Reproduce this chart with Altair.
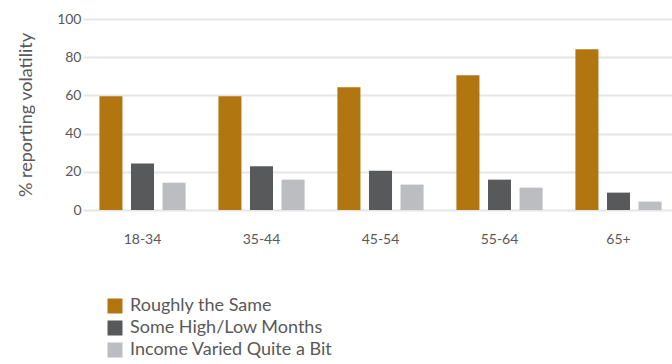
import altair as alt
import pandas as pd

groups = ["18-34", "35-44", "45-54", "55-64", "65+"]
series = ["Roughly the Same", "Some High/Low Months", "Income Varied Quite a Bit"]
roughly = [59.5, 59.5, 64.3, 70.6, 84.2]
high_low = [24.3, 22.9, 20.6, 15.9, 9.1]
varied = [14.3, 15.9, 13.3, 11.7, 4.4]
colors = ["#B1760F", "#58595B", "#BCBDC0"]

rows = []
for i, g in enumerate(groups):
    for s, vals in zip(series, [roughly, high_low, varied]):
        rows.append({"group": g, "series": s, "value": vals[i]})
df = pd.DataFrame(rows)

FONT = "Lato"
TXT = "#595959"

chart = alt.Chart(df).mark_bar().encode(
    x=alt.X("group:N", sort=groups, title=None,
            scale=alt.Scale(domain=groups, range=[-11, 584], paddingInner=0, paddingOuter=0),
            axis=alt.Axis(labelAngle=0, domain=False, ticks=False, grid=False, labelPadding=22,
                          labelFont=FONT, labelFontSize=14, labelColor=TXT)),
    xOffset=alt.XOffset("series:N", sort=series,
                        scale=alt.Scale(domain=series, paddingInner=0.27, paddingOuter=0.52)),
    y=alt.Y("value:Q", title="% reporting volatility",
            scale=alt.Scale(domain=[0, 100]),
            axis=alt.Axis(values=[0, 20, 40, 60, 80, 100], domain=False, ticks=False,
                          labelPadding=13, labelFont=FONT, labelFontSize=14, labelColor=TXT,
                          titleFont=FONT, titleFontSize=18, titleColor=TXT, titleFontWeight="normal",
                          titlePadding=21, gridColor="#E6E6E6", gridWidth=2)),
    color=alt.Color("series:N", sort=series,
                    scale=alt.Scale(domain=series, range=colors),
                    legend=alt.Legend(title=None, orient="none", legendX=12, legendY=278,
                                      symbolType="square", symbolSize=225, symbolStrokeWidth=0,
                                      symbolOpacity=1, labelFont=FONT, labelFontSize=18,
                                      labelColor=TXT, rowPadding=4, labelOffset=6, labelLimit=400)),
).properties(
    width=578, height=191,
    background="white",
    autosize=alt.AutoSizeParams(type="none"),
    padding={"left": 94, "top": 19, "right": 0, "bottom": 154},
).configure_view(stroke=None)

chart.save("out.html", embed_options={"renderer": "svg", "actions": False})
